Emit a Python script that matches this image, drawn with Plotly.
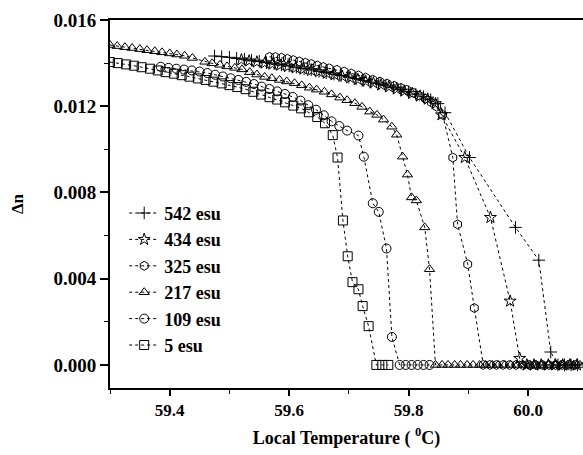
import plotly.graph_objects as go

# ---------------- data ----------------
series_names = ["542 esu", "434 esu", "325 esu", "217 esu", "109 esu", "5 esu"]

x542 = [59.475, 59.487, 59.500, 59.512, 59.525, 59.537, 59.550, 59.562, 59.575, 59.587,
        59.600, 59.612, 59.625, 59.637, 59.650, 59.662, 59.675, 59.687, 59.700, 59.712,
        59.725, 59.737, 59.750, 59.762, 59.775, 59.787, 59.800, 59.812, 59.825, 59.837,
        59.849, 59.861, 59.902, 59.979, 60.018, 60.038, 60.050, 60.061, 60.072, 60.083]
y542 = [0.01433, 0.01430, 0.01427, 0.01422, 0.01418, 0.01413, 0.01408, 0.01402, 0.01397, 0.01392,
        0.01387, 0.01381, 0.01375, 0.01369, 0.01362, 0.01356, 0.01349, 0.01342, 0.01335, 0.01328,
        0.01320, 0.01312, 0.01304, 0.01295, 0.01286, 0.01277, 0.01267, 0.01256, 0.01244, 0.01230,
        0.01212, 0.01170, 0.00962, 0.00638, 0.00486, 0.00060, 0.0, 0.0, 0.0, 0.0]

x434 = [59.520, 59.533, 59.546, 59.559, 59.572, 59.585, 59.598, 59.611, 59.624, 59.637,
        59.650, 59.663, 59.676, 59.689, 59.702, 59.715, 59.728, 59.741, 59.754, 59.767,
        59.780, 59.793, 59.806, 59.819, 59.832, 59.845, 59.855, 59.894, 59.937, 59.970,
        59.986, 59.998, 60.010, 60.022, 60.034, 60.046, 60.058, 60.070, 60.082]
y434 = [0.01415, 0.01410, 0.01405, 0.01400, 0.01395, 0.01390, 0.01384, 0.01378, 0.01372, 0.01366,
        0.01360, 0.01353, 0.01346, 0.01339, 0.01332, 0.01324, 0.01316, 0.01308, 0.01299, 0.01290,
        0.01280, 0.01270, 0.01259, 0.01247, 0.01233, 0.01212, 0.01160, 0.00962, 0.00684, 0.00296,
        0.00030, 0.0, 0.0, 0.0, 0.0, 0.0, 0.0, 0.0, 0.0]

x325 = [59.567, 59.577, 59.587, 59.597, 59.607, 59.617, 59.627, 59.637, 59.647, 59.657,
        59.667, 59.680, 59.692, 59.704, 59.716, 59.728, 59.740, 59.752, 59.764, 59.776,
        59.787, 59.797, 59.808, 59.818, 59.828, 59.838, 59.847, 59.857, 59.874, 59.882,
        59.899, 59.910, 59.925, 59.936, 59.947, 59.958, 59.969, 59.980, 59.991, 60.002,
        60.013, 60.024, 60.035, 60.046, 60.057, 60.068, 60.079]
y325 = [0.01429, 0.01428, 0.01425, 0.01420, 0.01414, 0.01408, 0.01402, 0.01396, 0.01389, 0.01382,
        0.01376, 0.01369, 0.01361, 0.01352, 0.01343, 0.01333, 0.01323, 0.01314, 0.01305, 0.01295,
        0.01285, 0.01276, 0.01262, 0.01249, 0.01235, 0.01218, 0.01198, 0.01160, 0.00962, 0.00652,
        0.00467, 0.00264, 0.0, 0.0, 0.0, 0.0, 0.0, 0.0, 0.0, 0.0,
        0.0, 0.0, 0.0, 0.0, 0.0, 0.0, 0.0]

x217 = [59.300, 59.312, 59.325, 59.337, 59.350, 59.362, 59.375, 59.387, 59.400, 59.412,
        59.425, 59.438, 59.459, 59.471, 59.484, 59.496, 59.509, 59.521, 59.534, 59.546,
        59.559, 59.571, 59.584, 59.596, 59.609, 59.621, 59.634, 59.646, 59.659, 59.671,
        59.685, 59.697, 59.710, 59.722, 59.735, 59.747, 59.758, 59.772, 59.780, 59.790,
        59.798, 59.805, 59.813, 59.827, 59.835,
        59.845, 59.856, 59.866, 59.877, 59.887, 59.898, 59.908, 59.919, 59.929, 59.940,
        59.950, 59.961, 59.971, 59.982, 59.992, 60.003, 60.013, 60.024, 60.034, 60.045,
        60.055, 60.066, 60.076, 60.087]
y217 = [0.01484, 0.01479, 0.01474, 0.01470, 0.01465, 0.01460, 0.01455, 0.01450, 0.01445, 0.01440,
        0.01434, 0.01424, 0.01406, 0.01399, 0.01392, 0.01385, 0.01378, 0.01371, 0.01358, 0.01347,
        0.01336, 0.01330, 0.01322, 0.01315, 0.01307, 0.01297, 0.01286, 0.01277, 0.01267, 0.01255,
        0.01240, 0.01228, 0.01214, 0.01197, 0.01175, 0.01160, 0.01138, 0.01105, 0.01068, 0.00966,
        0.00883, 0.00777, 0.00763, 0.00638, 0.00444,
        0.0, 0.0, 0.0, 0.0, 0.0, 0.0, 0.0, 0.0, 0.0, 0.0,
        0.0, 0.0, 0.0, 0.0, 0.0, 0.0, 0.0, 0.0, 0.0, 0.0,
        0.0, 0.0, 0.0, 0.0]

x109 = [59.385, 59.398, 59.411, 59.424, 59.437, 59.450, 59.463, 59.476, 59.489, 59.502,
        59.515, 59.528, 59.541, 59.554, 59.567, 59.580, 59.593, 59.606, 59.619, 59.632,
        59.645, 59.658, 59.671, 59.684, 59.697, 59.716, 59.725, 59.740, 59.750, 59.763,
        59.772, 59.785, 59.795, 59.805, 59.815, 59.825, 59.835]
y109 = [0.01383, 0.01378, 0.01374, 0.01370, 0.01366, 0.01361, 0.01354, 0.01346, 0.01338, 0.01330,
        0.01322, 0.01313, 0.01303, 0.01291, 0.01280, 0.01269, 0.01257, 0.01243, 0.01226, 0.01205,
        0.01184, 0.01158, 0.01130, 0.01108, 0.01087, 0.01064, 0.00966, 0.00750, 0.00710, 0.00540,
        0.00130, 0.0, 0.0, 0.0, 0.0, 0.0, 0.0]

x5 = [59.300, 59.313, 59.327, 59.340, 59.353, 59.367, 59.380, 59.393, 59.407, 59.420,
      59.433, 59.447, 59.460, 59.473, 59.487, 59.500, 59.513, 59.527, 59.540, 59.553,
      59.567, 59.580, 59.593, 59.607, 59.620, 59.633, 59.647, 59.660, 59.673, 59.681,
      59.690, 59.698, 59.706, 59.716, 59.723, 59.733, 59.746, 59.756, 59.766]
y5 = [0.01405, 0.01400, 0.01394, 0.01388, 0.01381, 0.01374, 0.01366, 0.01358, 0.01351, 0.01344,
      0.01337, 0.01329, 0.01322, 0.01314, 0.01306, 0.01298, 0.01289, 0.01279, 0.01267, 0.01254,
      0.01242, 0.01231, 0.01218, 0.01203, 0.01190, 0.01172, 0.01150, 0.01121, 0.01066, 0.00962,
      0.00670, 0.00504, 0.00384, 0.00351, 0.00273, 0.00180, 0.0, 0.0, 0.0]

x_ticks = [59.4, 59.6, 59.8, 60.0]
x_tick_labels = ["59.4", "59.6", "59.8", "60.0"]
y_ticks = [0.000, 0.004, 0.008, 0.012, 0.016]
y_tick_labels = ["0.000", "0.004", "0.008", "0.012", "0.016"]

# ---------------- figure ----------------
FONT = "Liberation Serif"
data = {
    "542 esu": (x542, y542, "cross-thin-open", 1),
    "434 esu": (x434, y434, "star-open", 2),
    "325 esu": (x325, y325, "hexagon-open", 3),
    "217 esu": (x217, y217, "triangle-up-open", 4),
    "109 esu": (x109, y109, "circle-open", 5),
    "5 esu": (x5, y5, "square-open", 6),
}
draw_order = ["542 esu", "434 esu", "325 esu", "109 esu", "5 esu", "217 esu"]

fig = go.Figure()
for name in draw_order:
    xs, ys, sym, rank = data[name]
    fig.add_trace(go.Scatter(
        x=xs, y=ys, name=name, mode="lines+markers", legendrank=rank,
        line=dict(color="black", width=1, dash="dot"),
        marker=dict(symbol=sym, size=9, color="black",
                    line=dict(color="black", width=1)),
    ))

fig.update_layout(
    width=583, height=455,
    margin=dict(l=110, r=0, t=20, b=67),
    paper_bgcolor="white", plot_bgcolor="white",
    font=dict(family=FONT, color="black"),
    showlegend=True,
    legend=dict(x=0.03, y=0.525, xanchor="left", yanchor="top",
                bgcolor="rgba(0,0,0,0)", borderwidth=0,
                font=dict(family=FONT, size=18, weight="bold"),
                tracegroupgap=0),
)
fig.update_xaxes(
    range=[59.3, 60.092], showgrid=False, zeroline=False,
    showline=True, linewidth=2, linecolor="black", mirror=True,
    tickvals=x_ticks, ticktext=x_tick_labels,
    ticks="outside", ticklen=6, tickwidth=1.5, tickcolor="black",
    tickfont=dict(family=FONT, size=17, weight="bold"),
    minor=dict(dtick=0.1, tick0=59.3, ticks="outside", ticklen=4, tickwidth=1, tickcolor="black"),
    title=dict(text="Local Temperature ( <sup>0</sup>C)",
               font=dict(family=FONT, size=18, weight="bold"), standoff=12),
)
fig.update_yaxes(
    range=[-0.00107, 0.016], showgrid=False, zeroline=False,
    showline=True, linewidth=2, linecolor="black",
    tickvals=y_ticks, ticktext=y_tick_labels,
    ticks="outside", ticklen=8, tickwidth=1.5, tickcolor="black",
    tickfont=dict(family=FONT, size=19, weight="bold"),
    minor=dict(dtick=0.002, tick0=0, ticks="outside", ticklen=4, tickwidth=1, tickcolor="black"),
    title=dict(text="Δn", font=dict(family=FONT, size=17, weight="bold"), standoff=26),
)

fig.write_html("out.html")
